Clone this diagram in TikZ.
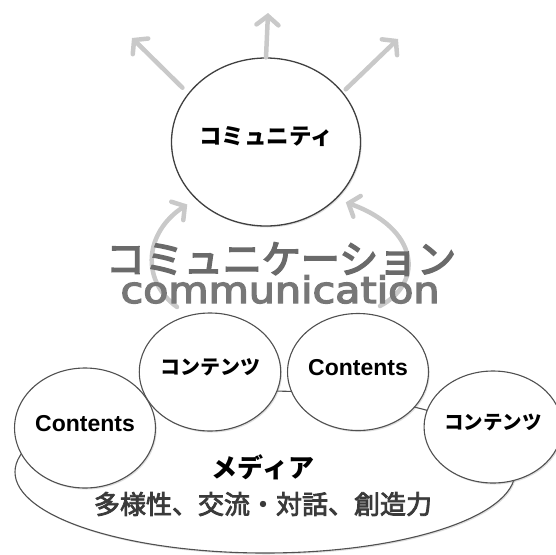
\documentclass[tikz,border=0pt]{standalone}
\usepackage{fontspec}
\setmainfont{Noto Sans CJK JP}
\newfontfamily\jpmed[FakeBold=3]{Noto Sans CJK JP}
\newfontfamily\jpbig[FakeBold=4]{Noto Sans CJK JP}
\newfontfamily\latf{Liberation Sans}
\newfontfamily\commf[FakeBold=3.5]{DejaVu Sans}
\usetikzlibrary{arrows.meta,shadows,shapes.geometric}
\definecolor{arrowgray}{HTML}{C9C9C9}
\definecolor{edgegray}{HTML}{505050}
\definecolor{bigtext}{HTML}{6A6A6A}
\definecolor{commtext}{HTML}{777777}
\definecolor{subtext}{HTML}{3A3A3A}
\begin{document}
\begin{tikzpicture}[x=1pt,y=-1pt,
  bubble/.style={ellipse, draw=edgegray, line width=1.1pt, fill=white, inner sep=0pt,
    text depth=10pt,
    drop shadow={opacity=0.25, shadow xshift=1.2pt, shadow yshift=-1.5pt}},
  garrow/.style={draw=arrowgray, line width=4.5pt, line cap=round,
    -{Straight Barb[length=9pt, width=22pt, line cap=round]}},
  jpbold/.style={font=\bfseries\fontsize{#1}{#1}\selectfont},
  jpmedium/.style={font=\jpmed\fontsize{#1}{#1}\selectfont},
  latbold/.style={font=\latf\bfseries\fontsize{#1}{#1}\selectfont}]
\path[use as bounding box] (0,0) rectangle (556,554);

% media base
\node[bubble, text depth=0pt, minimum width=500pt, minimum height=162pt] (media) at (265,472) {};

% contents circles
\node[bubble, latbold=23, minimum width=126pt, minimum height=120pt] (c1) at (85,428) {Contents};
\node[bubble, jpbold=20, minimum width=130pt, minimum height=118pt] (c2) at (210,372) {コンテンツ};
\node[bubble, latbold=23, minimum width=124pt, minimum height=117pt] (c3) at (358,372) {Contents};
\node[bubble, jpbold=19.5, minimum width=122pt, minimum height=112pt] (c4) at (493,427) {コンテンツ};

% media texts
\node[jpbold=26, text=black] (mediatxt) at (263,467) {メディア};
\node[jpmedium=26, text=subtext] (values) at (263,504) {多様性、交流・対話、創造力};

% community
\node[bubble, draw={black!75}, line width=1.3pt, jpbold=22.5, text depth=12pt,
  minimum width=184pt, minimum height=168pt] (comm) at (266,142) {コミュニティ};

% outward arrows
\coordinate (oL) at (132,38);
\coordinate (oU) at (268,13);
\coordinate (oR) at (398,39);
\draw[garrow, shorten <=8pt] (comm.148) -- (oL);
\draw[garrow] (comm.north) -- (oU);
\draw[garrow, shorten <=4pt] (comm.33) -- (oR);

% communication arcs
\coordinate (lS) at (177,307);
\coordinate (rS) at (380,306);
\draw[garrow, shorten >=10pt] (lS) .. controls (140,280) and (145,232) .. (comm.219);
\draw[garrow, shorten >=10pt] (rS) .. controls (425,282) and (418,228) .. (comm.321);

% communication texts
\node[text=bigtext, font=\jpbig\fontsize{39}{39}\selectfont] (kata) at (281,259) {コミュニケーション};
\node[text=commtext, anchor=base, font=\commf\fontsize{36.5}{38}\selectfont] (latin) at (280,303) {\scalebox{1.13}[1]{communication}};
\end{tikzpicture}
\end{document}
